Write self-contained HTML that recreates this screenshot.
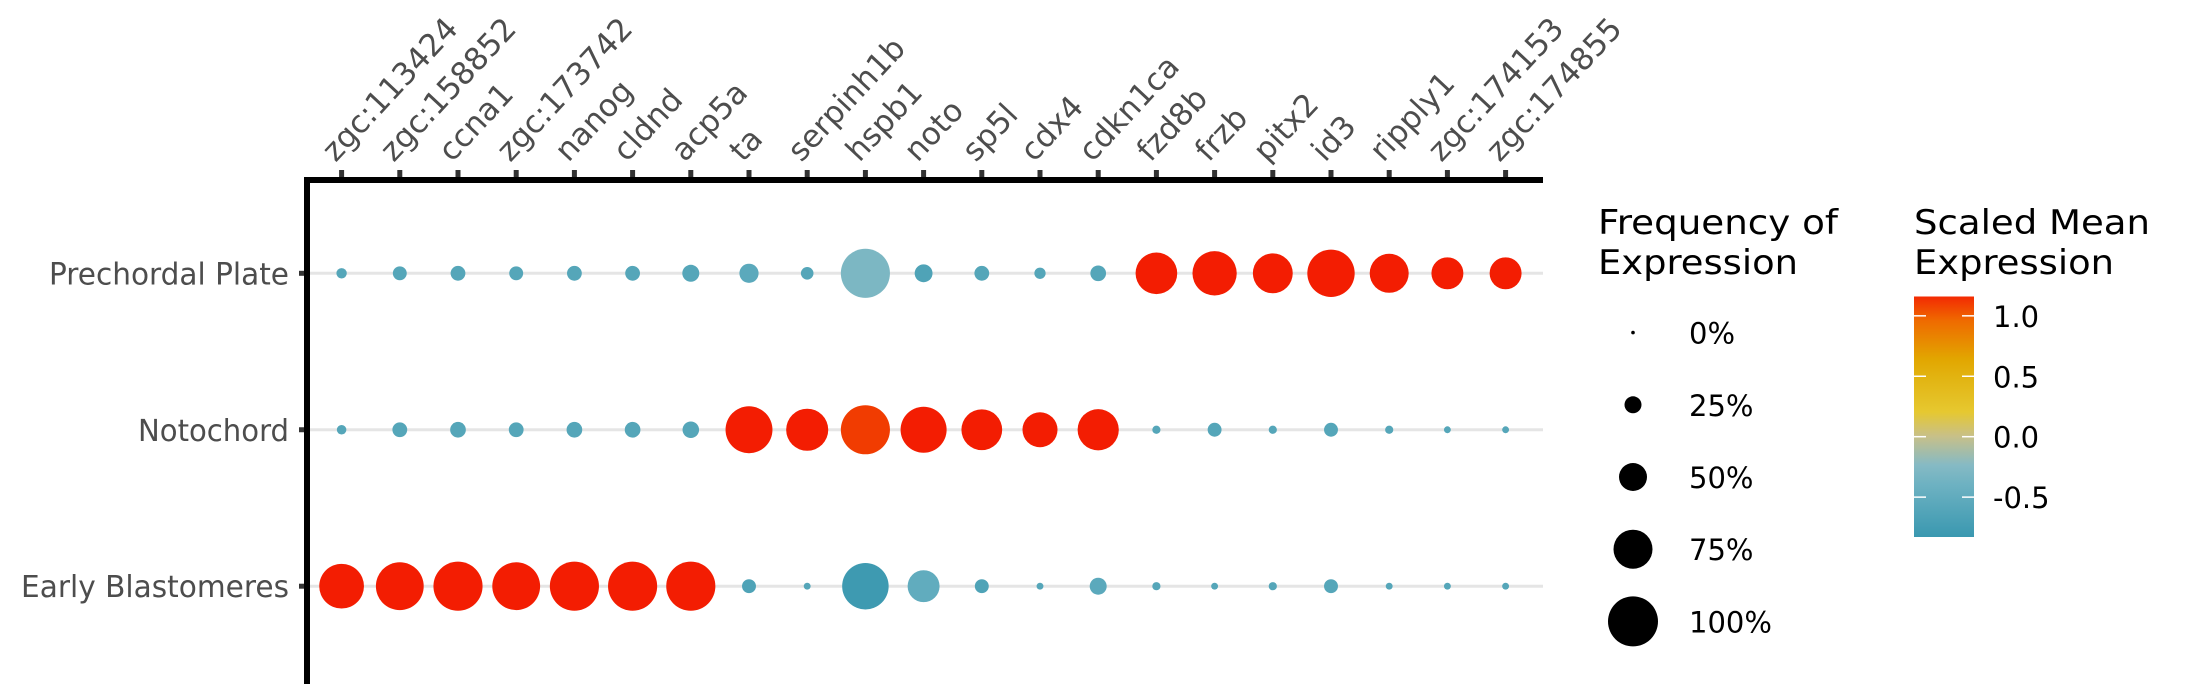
<!DOCTYPE html>
<html><head><meta charset="utf-8"><style>
html,body{margin:0;padding:0;background:#fff;}
svg{display:block;font-family:"DejaVu Sans","Liberation Sans",sans-serif;}
</style></head><body>
<svg id="chart" width="2190" height="699" viewBox="0 0 2190 699" xmlns="http://www.w3.org/2000/svg">
<defs>
<linearGradient id="cbar" x1="0" y1="1" x2="0" y2="0">
<stop offset="0" stop-color="#3A98B0"/>
<stop offset="0.22" stop-color="#6EB2C2"/>
<stop offset="0.3" stop-color="#86BAC4"/>
<stop offset="0.42" stop-color="#C8C088"/>
<stop offset="0.52" stop-color="#E6C830"/>
<stop offset="0.66" stop-color="#E2B412"/>
<stop offset="0.74" stop-color="#E2A600"/>
<stop offset="0.9" stop-color="#EF6A00"/>
<stop offset="1" stop-color="#F32A02"/>
</linearGradient>
</defs>
<g id="grid"></g>
<g id="dots"></g>
<g id="axes"></g>
<g id="legend"></g>
</svg>
<script>
const genes = ["zgc:113424","zgc:158852","ccna1","zgc:173742","nanog","cldnd","acp5a","ta","serpinh1b","hspb1","noto","sp5l","cdx4","cdkn1ca","fzd8b","frzb","pitx2","id3","ripply1","zgc:174153","zgc:174855"];
const groups = ["Prechordal Plate","Notochord","Early Blastomeres"];
const pctPrechordal = [0.1,0.18,0.2,0.18,0.2,0.2,0.25,0.3,0.15,0.98,0.27,0.2,0.12,0.22,0.81,0.87,0.77,0.94,0.75,0.59,0.59];
const pctNotochord  = [0.08,0.2,0.22,0.2,0.22,0.22,0.24,0.93,0.82,0.98,0.91,0.79,0.66,0.8,0.05,0.18,0.05,0.18,0.05,0.02,0.02];
const pctEarly      = [0.88,0.95,0.98,0.95,0.98,0.98,0.98,0.18,0.02,0.92,0.59,0.18,0.02,0.25,0.05,0.02,0.05,0.18,0.02,0.02,0.02];
const expPrechordal = [-0.6,-0.6,-0.6,-0.6,-0.6,-0.6,-0.6,-0.55,-0.6,-0.3,-0.65,-0.6,-0.6,-0.6,1.16,1.16,1.16,1.16,1.16,1.16,1.16];
const expNotochord  = [-0.6,-0.6,-0.6,-0.6,-0.6,-0.6,-0.6,1.16,1.16,1.08,1.16,1.16,1.16,1.16,-0.6,-0.6,-0.6,-0.6,-0.6,-0.6,-0.6];
const expEarly      = [1.16,1.16,1.16,1.16,1.16,1.16,1.16,-0.65,-0.6,-0.8,-0.5,-0.65,-0.6,-0.55,-0.6,-0.6,-0.6,-0.6,-0.6,-0.6,-0.6];
const legendPct = [0,0.25,0.5,0.75,1];
const legendLabels = ["0%","25%","50%","75%","100%"];
const cbarTicks = [1.0,0.5,0.0,-0.5];
const cbarLabels = ["1.0","0.5","0.0","-0.5"];

const NS="http://www.w3.org/2000/svg";
function mk(tag, attrs, parent){const e=document.createElementNS(NS,tag);for(const k in attrs)e.setAttribute(k,attrs[k]);parent.appendChild(e);return e;}
const x0=341.6, dx=58.2;
const xs=i=>x0+i*dx;
const rowY=[273.3,429.8,586.2];
const ys=j=>rowY[0]+j*((rowY[2]-rowY[0])/2);
const rs=p=>3+22*p;
const vmin=-0.83,vmax=1.16;
const cbTop=296.5,cbBot=537;
const cy=v=>cbBot-(v-vmin)/(vmax-vmin)*(cbBot-cbTop);
const stops=[[0,[58,152,176]],[0.22,[110,178,194]],[0.3,[134,186,196]],[0.42,[200,192,136]],[0.52,[230,200,48]],[0.66,[226,180,18]],[0.74,[226,166,0]],[0.9,[239,106,0]],[1,[243,29,2]]];
function col(v){let t=(v-vmin)/(vmax-vmin);t=Math.max(0,Math.min(1,t));
 for(let i=1;i<stops.length;i++){if(t<=stops[i][0]){const a=stops[i-1],b=stops[i];const f=(t-a[0])/(b[0]-a[0]);
 const c=a[1].map((q,k)=>Math.round(q+(b[1][k]-q)*f));return `rgb(${c[0]},${c[1]},${c[2]})`;}}
 return "rgb(243,29,2)";}

const grid=document.getElementById('grid'), dots=document.getElementById('dots'), axes=document.getElementById('axes'), leg=document.getElementById('legend');
const pcts=[pctPrechordal,pctNotochord,pctEarly], exps=[expPrechordal,expNotochord,expEarly];
const yLabelW=[240,151,268];
groups.forEach((g,j)=>{
 const l=mk('line',{x1:309,x2:1543,y1:ys(j),y2:ys(j),stroke:'#E5E5E5','stroke-width':3},grid);
 
 
 genes.forEach((gn,i)=>{
  const c=mk('circle',{cx:xs(i),cy:ys(j),r:rs(pcts[j][i]),fill:col(exps[j][i])},dots);
  
  
 });
 const t=mk('text',{x:289,y:ys(j)+11,'text-anchor':'end','font-size':30,fill:'#4D4D4D',textLength:yLabelW[j],lengthAdjust:'spacingAndGlyphs'},axes);
 t.textContent=g;
 
 
 const tk=mk('line',{x1:299,x2:307,y1:ys(j),y2:ys(j),stroke:'#333','stroke-width':5},axes);
 
 
});
genes.forEach((gn,i)=>{
 const tk=mk('line',{x1:xs(i),x2:xs(i),y1:170,y2:180,stroke:'#333','stroke-width':5},axes);
 
 
 const t=mk('text',{transform:`translate(${xs(i)-6},${163}) rotate(-47)`,'font-size':31,fill:'#4D4D4D'},axes);
 t.textContent=gn;
 
 
});
let a=mk('line',{x1:304,x2:1543,y1:180,y2:180,stroke:'#000','stroke-width':6},axes);


a=mk('line',{x1:307,x2:307,y1:177,y2:684,stroke:'#000','stroke-width':6},axes);



// size legend
let t=mk('text',{x:1598,y:234,'font-size':34,fill:'#000',textLength:240,lengthAdjust:'spacingAndGlyphs'},leg);t.textContent='Frequency of';


t=mk('text',{x:1598,y:274,'font-size':34,fill:'#000',textLength:200,lengthAdjust:'spacingAndGlyphs'},leg);t.textContent='Expression';


legendPct.forEach((p,k)=>{
 const y=332.6+k*72.2;
 const c=mk('circle',{cx:1633,cy:y,r:rs(p)-(p===0?1.2:0),fill:'#000'},leg);
 
 
 const l=mk('text',{x:1689,y:y+11,'font-size':29,fill:'#000'},leg);l.textContent=legendLabels[k];
 
 
});
// color legend
t=mk('text',{x:1914,y:234,'font-size':34,fill:'#000',textLength:236,lengthAdjust:'spacingAndGlyphs'},leg);t.textContent='Scaled Mean';


t=mk('text',{x:1914,y:274,'font-size':34,fill:'#000',textLength:200,lengthAdjust:'spacingAndGlyphs'},leg);t.textContent='Expression';


const rb=mk('rect',{x:1914,y:cbTop,width:60,height:cbBot-cbTop,fill:'url(#cbar)'},leg);


cbarTicks.forEach((v,k)=>{
 const y=cy(v);
 let l=mk('line',{x1:1914,x2:1926,y1:y,y2:y,stroke:'#fff','stroke-width':1.5},leg);
 
 
 l=mk('line',{x1:1962,x2:1974,y1:y,y2:y,stroke:'#fff','stroke-width':1.5},leg);
 
 
 const tx=mk('text',{x:1993,y:y+11,'font-size':29,fill:'#000'},leg);tx.textContent=cbarLabels[k];
 
 
});
</script>
</body></html>
